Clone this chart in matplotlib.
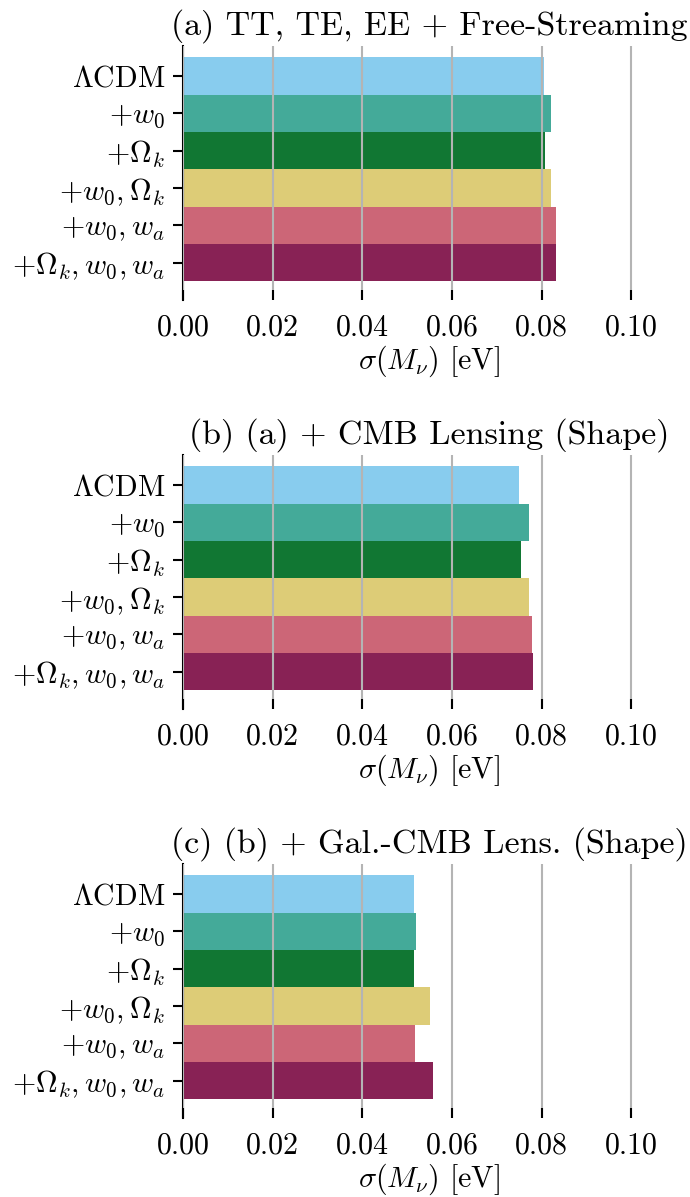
import numpy as np
import matplotlib
matplotlib.use("Agg")
import matplotlib.pyplot as plt

plt.rcParams['font.family'] = 'serif'
plt.rcParams['font.serif'] = ['cmr10']
plt.rcParams['mathtext.fontset'] = 'cm'
plt.rcParams['axes.unicode_minus'] = False

models = [r'$\Lambda$CDM', r'$+w_0$', r'$+\Omega_k$', r'$+w_0, \Omega_k$',
          r'$+w_0, w_a$', r'$+\Omega_k, w_0, w_a$']
colors = ['#88CCEE', '#44AA99', '#117733', '#DDCC77', '#CC6677', '#882255']

titles = ['(a) TT, TE, EE + Free-Streaming',
          '(b) (a) + CMB Lensing (Shape)',
          '(c) (b) + Gal.-CMB Lens. (Shape)']

sigma_a = [0.0806, 0.0821, 0.0807, 0.0821, 0.0832, 0.0832]
sigma_b = [0.0750, 0.0771, 0.0754, 0.0772, 0.0779, 0.0780]
sigma_c = [0.0515, 0.0519, 0.0516, 0.0551, 0.0518, 0.0558]

xticks = [0.00, 0.02, 0.04, 0.06, 0.08, 0.10]

fig = plt.figure(figsize=(6.9, 11.97), dpi=100)
bottoms = [0.7494, 0.4077, 0.0660]

for vals, title, b in zip([sigma_a, sigma_b, sigma_c], titles, bottoms):
    ax = fig.add_axes([0.2652, b, 0.7145, 0.2122])
    y = np.arange(len(models))
    ax.barh(y, vals, height=1.0, color=colors, linewidth=0)
    ax.set_xlim(0, 0.11)
    ax.set_ylim(6.0, -0.8)
    ax.set_yticks(y)
    ax.set_yticklabels(models, fontsize=21.5)
    ax.set_xticks(xticks)
    ax.set_xticklabels(['%.2f' % t for t in xticks], fontsize=21.5)
    ax.set_axisbelow(False)
    ax.grid(axis='x', color='#b4b4b4', linewidth=1.5)
    for s in ['top', 'right', 'bottom']:
        ax.spines[s].set_visible(False)
    ax.spines['left'].set_linewidth(1.5)
    ax.tick_params(axis='x', direction='in', length=7, width=1.5, pad=10)
    ax.tick_params(axis='y', direction='out', length=7, width=1.5, pad=6)
    ax.set_xlabel(r'$\sigma(M_\nu)$ [eV]', fontsize=21.5, labelpad=2)
    ax.set_title(title, fontsize=24.5, pad=8)

fig.savefig('out.png', dpi=100)
